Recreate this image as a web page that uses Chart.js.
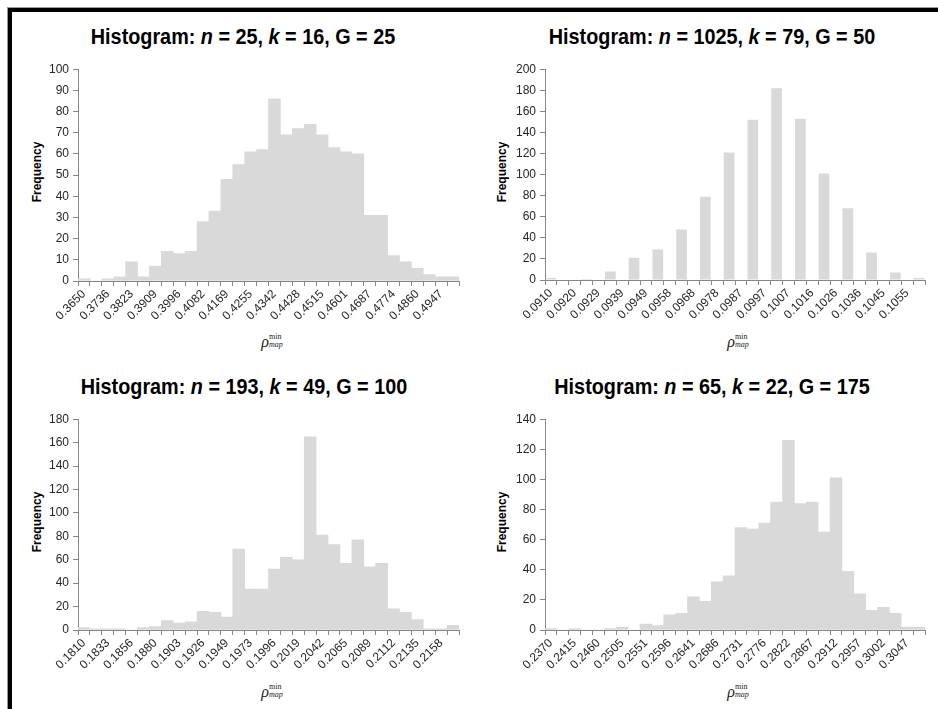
<!DOCTYPE html>
<html>
<head>
<meta charset="utf-8">
<script src="https://cdn.jsdelivr.net/npm/chart.js@4.4.1/dist/chart.umd.min.js"></script>
<style>
  html, body { margin: 0; padding: 0; background: #fff; overflow: hidden; }
  body { width: 938px; height: 709px; position: relative; font-family: "Liberation Sans", Arial, sans-serif; }
  .frame { position: absolute; left: 8px; top: 8px; width: 940px; height: 710px;
           border-top: 4px solid #000; border-left: 4px solid #000;
           box-shadow: -1px -1px 0 #9a9a9a; }
  canvas { position: absolute; }
  .title { position: absolute; width: 460px; text-align: center; font-weight: bold; font-size: 22px;
           color: #000; white-space: nowrap; transform: translate(-50%, -50%) scaleX(0.9); }
  .ylab { position: absolute; font-weight: bold; font-size: 12px; color: #000; white-space: nowrap;
          transform: translate(-50%, -50%) rotate(-90deg); }
  .xlab { position: absolute; transform: translate(-50%, -50%); font-family: "Liberation Serif", serif;
          color: #222; white-space: nowrap; }
  .xlab .rho { font-style: italic; font-size: 16px; vertical-align: middle; }
  .xlab .st { display: inline-block; vertical-align: middle; line-height: 8px; font-size: 8px; text-align: left; }
  .xlab .st span { display: block; }
</style>
</head>
<body>
<div class="frame"></div>

<div class="title" style="left:243px; top:37px;">Histogram: <i>n</i> = 25, <i>k</i> = 16, G = 25</div>
<div class="title" style="left:712px; top:37px;">Histogram: <i>n</i> = 1025, <i>k</i> = 79, G = 50</div>
<div class="title" style="left:244px; top:387px;">Histogram: <i>n</i> = 193, <i>k</i> = 49, G = 100</div>
<div class="title" style="left:712px; top:387px;">Histogram: <i>n</i> = 65, <i>k</i> = 22, G = 175</div>

<div class="ylab" style="left:37px; top:172px;">Frequency</div>
<div class="ylab" style="left:502px; top:172px;">Frequency</div>
<div class="ylab" style="left:37px; top:522px;">Frequency</div>
<div class="ylab" style="left:502px; top:522px;">Frequency</div>

<div class="xlab" style="left:272px; top:341px;"><span class="rho">ρ</span><span class="st"><span>min</span><span><i>map</i></span></span></div>
<div class="xlab" style="left:738px; top:341px;"><span class="rho">ρ</span><span class="st"><span>min</span><span><i>map</i></span></span></div>
<div class="xlab" style="left:272px; top:691px;"><span class="rho">ρ</span><span class="st"><span>min</span><span><i>map</i></span></span></div>
<div class="xlab" style="left:738px; top:691px;"><span class="rho">ρ</span><span class="st"><span>min</span><span><i>map</i></span></span></div>

<canvas id="h1" width="457" height="293" style="left:14px; top:58px;"></canvas>
<canvas id="h2" width="456" height="292" style="left:481px; top:58px;"></canvas>
<canvas id="h3" width="457" height="292" style="left:14px; top:408px;"></canvas>
<canvas id="h4" width="456" height="292" style="left:481px; top:408px;"></canvas>

<script>
// Tick labels shown under every other bin
const ticks1 = ["0.3650", "0.3736", "0.3823", "0.3909", "0.3996", "0.4082", "0.4169", "0.4255",
                "0.4342", "0.4428", "0.4515", "0.4601", "0.4687", "0.4774", "0.4860", "0.4947"];
const ticks2 = ["0.0910", "0.0920", "0.0929", "0.0939", "0.0949", "0.0958", "0.0968", "0.0978",
                "0.0987", "0.0997", "0.1007", "0.1016", "0.1026", "0.1036", "0.1045", "0.1055"];
const ticks3 = ["0.1810", "0.1833", "0.1856", "0.1880", "0.1903", "0.1926", "0.1949", "0.1973",
                "0.1996", "0.2019", "0.2042", "0.2065", "0.2089", "0.2112", "0.2135", "0.2158"];
const ticks4 = ["0.2370", "0.2415", "0.2460", "0.2505", "0.2551", "0.2596", "0.2641", "0.2686",
                "0.2731", "0.2776", "0.2822", "0.2867", "0.2912", "0.2957", "0.3002", "0.3047"];

// Frequencies, 32 bins each
const freq1 = [1, 0, 1, 2, 9, 2, 7, 14, 13, 14, 28, 33, 48, 55, 61, 62,
               86, 69, 72, 74, 69, 63, 61, 60, 31, 31, 12, 9, 6, 3, 2, 2];
const freq2 = [2, 0, 0, 1, 0, 8, 0, 21, 0, 29, 0, 48, 0, 79, 0, 121,
               0, 152, 0, 182, 0, 153, 0, 101, 0, 68, 0, 26, 0, 7, 0, 2];
const freq3 = [2, 1, 1, 1, 0, 2, 3, 8, 6, 7, 16, 15, 11, 69, 35, 35,
               52, 62, 60, 165, 81, 73, 57, 77, 54, 57, 18, 15, 9, 1, 1, 4];
const freq4 = [1, 0, 1, 0, 0, 1, 2, 0, 4, 3, 10, 11, 22, 19, 32, 36,
               68, 67, 71, 85, 126, 84, 85, 65, 101, 39, 24, 13, 15, 11, 2, 2];

// Y axis ranges
const yMax = [100, 200, 180, 140];
const yStep = [10, 20, 20, 20];

const axisGray = "#868686";
const barGray = "#d9d9d9";
const tickColor = "#262626";

// put a label on even bins, blank on odd ones
function binLabels(ticks) {
  const out = [];
  ticks.forEach(t => { out.push(t); out.push(""); });
  return out;
}

function makeHistogram(id, ticks, values, max, step, barPct) {
  new Chart(document.getElementById(id), {
    type: "bar",
    data: {
      labels: binLabels(ticks),
      datasets: [{
        data: values,
        backgroundColor: barGray,
        borderWidth: 0,
        barPercentage: barPct,
        categoryPercentage: 1
      }]
    },
    options: {
      responsive: false,
      animation: false,
      devicePixelRatio: 1,
      layout: { padding: { top: 8, right: 12, left: 0, bottom: 0 } },
      plugins: { legend: { display: false }, tooltip: { enabled: false } },
      scales: {
        x: {
          offset: true,
          afterFit(scale) { scale.height = 70; },
          grid: { offset: true, drawOnChartArea: false, color: axisGray, tickLength: 5 },
          border: { color: axisGray },
          ticks: {
            autoSkip: false, minRotation: 45, maxRotation: 45, padding: 1,
            color: tickColor, font: { family: "Liberation Sans", size: 12 }
          }
        },
        y: {
          min: 0, max: max,
          afterFit(scale) { scale.width = 64; },
          grid: { drawOnChartArea: false, color: axisGray, tickLength: 5 },
          border: { color: axisGray },
          ticks: {
            stepSize: step, padding: 4,
            color: tickColor, font: { family: "Liberation Sans", size: 12 }
          }
        }
      }
    }
  });
}

makeHistogram("h1", ticks1, freq1, yMax[0], yStep[0], 1);
makeHistogram("h2", ticks2, freq2, yMax[1], yStep[1], 0.9);
makeHistogram("h3", ticks3, freq3, yMax[2], yStep[2], 1);
makeHistogram("h4", ticks4, freq4, yMax[3], yStep[3], 1);
</script>
</body>
</html>
